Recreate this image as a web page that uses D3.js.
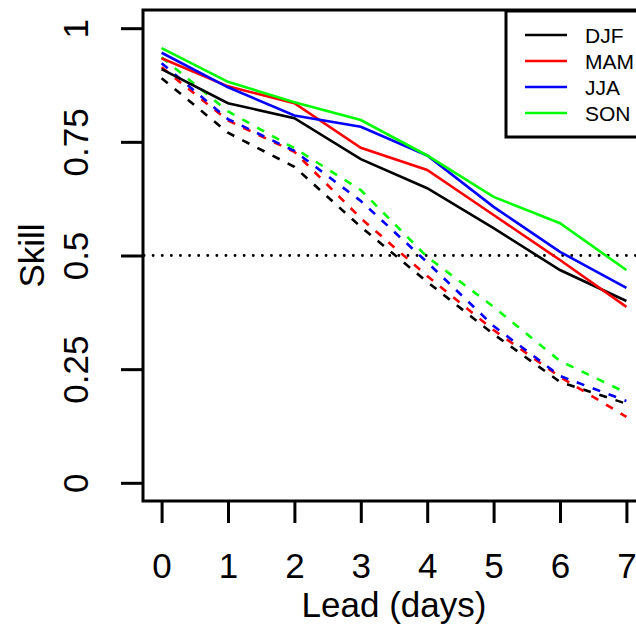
<!DOCTYPE html>
<html>
<head>
<meta charset="utf-8">
<script src="https://cdn.jsdelivr.net/npm/d3@7"></script>
<style>
  body { margin: 0; background: #fff; }
  svg { display: block; font-family: "Liberation Sans", Arial, Helvetica, sans-serif; }
</style>
</head>
<body>
<svg id="chart" width="636" height="625"></svg>
<script>
  // lead times (days) and tick labels
  const lead = [0, 1, 2, 3, 4, 5, 6, 7];
  const yTicks = [0, 0.25, 0.5, 0.75, 1];
  const yTickLabels = ["0", "0.25", "0.5", "0.75", "1"];

  const seasons = ["DJF", "MAM", "JJA", "SON"];
  const colors = ["#000000", "#ff0000", "#0000ff", "#00ff00"];

  // solid lines
  const djfSolid = [0.910, 0.835, 0.802, 0.712, 0.648, 0.560, 0.468, 0.400];
  const mamSolid = [0.934, 0.872, 0.835, 0.737, 0.688, 0.589, 0.490, 0.387];
  const jjaSolid = [0.946, 0.870, 0.808, 0.783, 0.720, 0.607, 0.508, 0.429];
  const sonSolid = [0.956, 0.882, 0.837, 0.798, 0.720, 0.629, 0.571, 0.468];

  // dashed lines
  const djfDashed = [0.890, 0.770, 0.695, 0.563, 0.442, 0.327, 0.222, 0.174];
  const mamDashed = [0.914, 0.797, 0.728, 0.582, 0.455, 0.336, 0.233, 0.145];
  const jjaDashed = [0.923, 0.800, 0.730, 0.620, 0.485, 0.345, 0.235, 0.180];
  const sonDashed = [0.936, 0.817, 0.736, 0.644, 0.497, 0.387, 0.268, 0.198];

  const reference = 0.5;

  const solid = [djfSolid, mamSolid, jjaSolid, sonSolid];
  const dashed = [djfDashed, mamDashed, jjaDashed, sonDashed];

  const svg = d3.select("#chart");

  // plot region (R style, 4% padding on each axis)
  const box = { left: 143, top: 10, right: 645, bottom: 501 };

  const x = d3.scaleLinear()
    .domain([-0.28, 7.28])
    .range([box.left, box.right]);

  const y = d3.scaleLinear()
    .domain([-0.04, 1.04])
    .range([box.bottom, box.top]);

  const line = d3.line()
    .x((d, i) => x(lead[i]))
    .y(d => y(d));

  // dotted reference line at 0.5
  svg.append("line")
    .attr("x1", box.left)
    .attr("x2", box.right)
    .attr("y1", y(reference))
    .attr("y2", y(reference))
    .attr("stroke", "#000")
    .attr("stroke-width", 2.8)
    .attr("stroke-linecap", "round")
    .attr("stroke-dasharray", "0.1,9")
    .attr("stroke-dashoffset", -1);

  // dashed series first, solid on top
  dashed.forEach((s, k) => {
    svg.append("path")
      .datum(s)
      .attr("d", line)
      .attr("fill", "none")
      .attr("stroke", colors[k])
      .attr("stroke-width", 2.6)
      .attr("stroke-dasharray", "8,9");
  });

  solid.forEach((s, k) => {
    svg.append("path")
      .datum(s)
      .attr("d", line)
      .attr("fill", "none")
      .attr("stroke", colors[k])
      .attr("stroke-width", 2.6);
  });

  // box around the plot
  svg.append("rect")
    .attr("x", box.left)
    .attr("y", box.top)
    .attr("width", box.right - box.left)
    .attr("height", box.bottom - box.top)
    .attr("fill", "none")
    .attr("stroke", "#000")
    .attr("stroke-width", 3);

  // x axis
  const xAxis = svg.append("g")
    .attr("transform", "translate(0," + box.bottom + ")")
    .call(d3.axisBottom(x).tickValues(lead).tickSize(22).tickPadding(30).tickFormat(d3.format("d")));
  xAxis.select(".domain").remove();
  xAxis.selectAll("line").attr("stroke-width", 3);
  xAxis.selectAll("text")
    .attr("font-size", 35)
    .attr("font-family", "Liberation Sans, Arial, sans-serif")
    .attr("fill", "#000");

  // y axis, labels rotated like R's default
  const yAxis = svg.append("g")
    .attr("transform", "translate(" + box.left + ",0)")
    .call(d3.axisLeft(y).tickValues(yTicks).tickSize(22).tickFormat((d, i) => yTickLabels[i]));
  yAxis.select(".domain").remove();
  yAxis.selectAll("line").attr("stroke-width", 3);
  yAxis.selectAll("text")
    .attr("x", null)
    .attr("dy", null)
    .attr("text-anchor", "middle")
    .attr("transform", "translate(-55,0) rotate(-90)")
    .attr("font-size", 35)
    .attr("font-family", "Liberation Sans, Arial, sans-serif")
    .attr("fill", "#000");

  // axis titles
  svg.append("text")
    .attr("x", (box.left + box.right) / 2)
    .attr("y", 617)
    .attr("text-anchor", "middle")
    .attr("font-size", 35)
    .text("Lead (days)");

  svg.append("text")
    .attr("transform", "translate(44," + (box.top + box.bottom) / 2 + ") rotate(-90)")
    .attr("text-anchor", "middle")
    .attr("font-size", 35)
    .text("Skill");

  // legend
  const legend = svg.append("g");
  legend.append("rect")
    .attr("x", 506)
    .attr("y", 11)
    .attr("width", 150)
    .attr("height", 126)
    .attr("fill", "#fff")
    .attr("stroke", "#000")
    .attr("stroke-width", 3);

  seasons.forEach((name, k) => {
    const ly = 35 + k * 26;
    legend.append("line")
      .attr("x1", 525)
      .attr("x2", 567)
      .attr("y1", ly)
      .attr("y2", ly)
      .attr("stroke", colors[k])
      .attr("stroke-width", 2.6);
    legend.append("text")
      .attr("x", 585)
      .attr("y", ly + 8)
      .attr("font-size", 21)
      .text(name);
  });
</script>
</body>
</html>
